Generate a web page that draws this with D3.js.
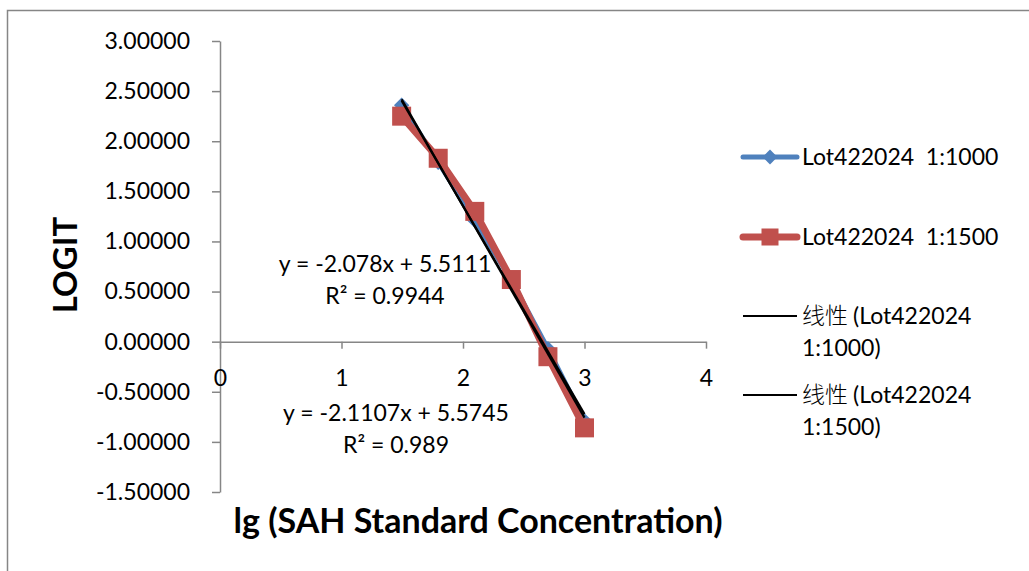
<!DOCTYPE html>
<html>
<head>
<meta charset="utf-8">
<script src="https://cdn.jsdelivr.net/npm/d3@7"></script>
<style>
  body { margin: 0; background: #fff; }
  svg { display: block; font-family: Lato, "Noto Sans", sans-serif; }
  text { white-space: pre; }
</style>
</head>
<body>
<svg id="chart" width="1029" height="571"></svg>
<script>
// lg of standard concentration (31.25 .. 1000)
const lgConc = [1.495, 1.796, 2.097, 2.398, 2.699, 3.0];
const logit1000 = [2.36, 1.79, 1.21, 0.61, -0.07, -0.79];
const logit1500 = [2.25, 1.83, 1.30, 0.62, -0.15, -0.86];

const seriesNames = ["Lot422024  1:1000", "Lot422024  1:1500"];
const trendSlope = [-2.078, -2.1107];
const trendIntercept = [5.5111, 5.5745];
const rSquared = ["0.9944", "0.989"];

const xTicks = [0, 1, 2, 3, 4];
const yTicks = [-1.5, -1.0, -0.5, 0, 0.5, 1.0, 1.5, 2.0, 2.5, 3.0];

const blue = "#4F81BD", red = "#C0504D", axisGrey = "#868686";

const svg = d3.select("#chart");

// outer chart frame (runs off the right/bottom edge)
svg.append("rect")
  .attr("x", 7.5).attr("y", 10.5)
  .attr("width", 1100).attr("height", 700)
  .attr("fill", "none").attr("stroke", axisGrey).attr("stroke-width", 1.5);

const x = d3.scaleLinear().domain([0, 4]).range([220, 706]);
const y = d3.scaleLinear().domain([-1.5, 3]).range([492, 41]);

const fmt = d3.formatLocale({ decimal: ".", thousands: ",", grouping: [3], currency: ["", ""], minus: "-" }).format(".5f");

// y axis
const gy = svg.append("g")
  .attr("transform", `translate(${x(0)},0)`)
  .call(d3.axisLeft(y).tickValues(yTicks).tickFormat(fmt).tickSize(8).tickSizeOuter(0).tickPadding(22));

// x axis through y = 0
const gx = svg.append("g")
  .attr("transform", `translate(0,${y(0)})`)
  .call(d3.axisBottom(x).tickValues(xTicks).tickFormat(d3.format("d")).tickSize(7).tickSizeOuter(0).tickPadding(21));

[gx, gy].forEach(g => {
  g.select(".domain").attr("stroke", axisGrey).attr("stroke-width", 1.5);
  g.selectAll(".tick line").attr("stroke", axisGrey).attr("stroke-width", 1.5);
  g.selectAll(".tick text").attr("fill", "#000").style("font-size", "23px").style("font-family", "Lato");
});

// axis titles
svg.append("text")
  .attr("transform", `translate(65,265) rotate(-90)`)
  .attr("text-anchor", "middle").attr("dy", "0.35em")
  .style("font-size", "33px").style("font-weight", "bold")
  .text("LOGIT");

svg.append("text")
  .attr("x", 478).attr("y", 533)
  .attr("text-anchor", "middle")
  .style("font-size", "34px").style("font-weight", "bold")
  .text("lg (SAH Standard Concentration)");

const line = d3.line().x(d => x(d[0])).y(d => y(d[1]));

// series 1:1000 (blue, diamonds)
const pts1000 = d3.zip(lgConc, logit1000);
svg.append("path").datum(pts1000)
  .attr("d", line).attr("fill", "none")
  .attr("stroke", blue).attr("stroke-width", 5).attr("stroke-linejoin", "round");
svg.selectAll(".dia").data(pts1000).join("path")
  .attr("class", "dia")
  .attr("d", d3.symbol(d3.symbolDiamond2, 150))
  .attr("transform", d => `translate(${x(d[0])},${y(d[1])})`)
  .attr("fill", blue);

// series 1:1500 (red, squares)
const pts1500 = d3.zip(lgConc, logit1500);
svg.append("path").datum(pts1500)
  .attr("d", line).attr("fill", "none")
  .attr("stroke", red).attr("stroke-width", 7).attr("stroke-linejoin", "round");
svg.selectAll(".sq").data(pts1500).join("rect")
  .attr("class", "sq")
  .attr("x", d => x(d[0]) - 9.5).attr("y", d => y(d[1]) - 9.5)
  .attr("width", 19).attr("height", 19)
  .attr("fill", red);

// linear trendlines
const xExtent = d3.extent(lgConc);
trendSlope.forEach((m, i) => {
  const b = trendIntercept[i];
  svg.append("path")
    .datum(xExtent.map(v => [v, m * v + b]))
    .attr("d", line).attr("fill", "none")
    .attr("stroke", "#000").attr("stroke-width", 2.2);
});

// trendline equations
const eqPos = [[385, 264], [396, 413]];
trendSlope.forEach((m, i) => {
  const g = svg.append("g").attr("transform", `translate(${eqPos[i][0]},${eqPos[i][1]})`)
    .style("font-size", "23px").attr("text-anchor", "middle");
  g.append("text").attr("dy", "0.35em").text(`y = ${m}x + ${trendIntercept[i]}`);
  g.append("text").attr("y", 32).attr("dy", "0.35em").text(`R² = ${rSquared[i]}`);
});

// legend
const legendX = 743, legendText = 802;
const leg = svg.append("g").style("font-size", "23px");
[157, 237].forEach((ly, i) => {
  leg.append("line").attr("x1", legendX).attr("x2", 797).attr("y1", ly).attr("y2", ly)
    .attr("stroke", i ? red : blue).attr("stroke-width", i ? 7 : 5).attr("stroke-linecap", "round");
  if (i) {
    leg.append("rect").attr("x", 770 - 8.5).attr("y", ly - 8.5).attr("width", 17).attr("height", 17).attr("fill", red);
  } else {
    leg.append("path").attr("d", d3.symbol(d3.symbolDiamond2, 140)).attr("transform", `translate(770,${ly})`).attr("fill", blue);
  }
  leg.append("text").attr("x", legendText).attr("y", ly).attr("dy", "0.35em").text(seriesNames[i]);
});
[316, 395].forEach((ly, i) => {
  leg.append("line").attr("x1", legendX).attr("x2", 797).attr("y1", ly).attr("y2", ly)
    .attr("stroke", "#000").attr("stroke-width", 2);
  const t = leg.append("text").attr("x", legendText).attr("y", ly).attr("dy", "0.35em");
  t.append("tspan").style("font-family", "'Noto Sans CJK SC'").style("font-weight", 300).text("线性 ");
  t.append("tspan").text("(" + seriesNames[i].split("  ")[0]);
  leg.append("text").attr("x", legendText).attr("y", ly + 32).attr("dy", "0.35em")
    .text(seriesNames[i].split("  ")[1] + ")");
});
</script>
</body>
</html>
